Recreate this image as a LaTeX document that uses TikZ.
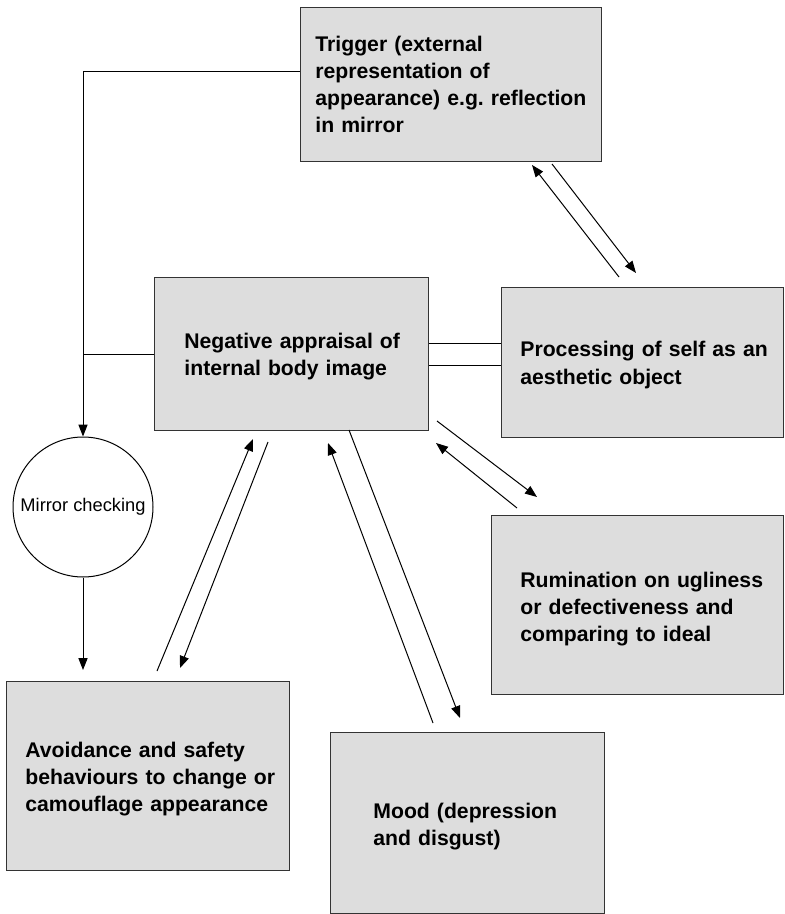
\documentclass[tikz,border=0pt]{standalone}
\usepackage{fontspec}
\setmainfont{Liberation Sans}
\usetikzlibrary{arrows.meta}

\definecolor{boxgray}{HTML}{DDDDDD}
\definecolor{edgegray}{HTML}{333333}

\tikzset{
  box/.style={draw=edgegray, line width=0.6pt, fill=boxgray, anchor=north west, inner sep=0pt},
  boxtext/.style={anchor=base west, inner sep=0pt, text width=150pt, align=left,
    font=\fontsize{10.6}{13.5}\selectfont\bfseries},
  arrow/.style={line width=0.5pt, -{Triangle[length=6pt,width=4.6pt]}},
  link/.style={line width=0.5pt}
}

\begin{document}
\begin{tikzpicture}[x=0.5pt,y=-0.5pt]
\useasboundingbox (0,0) rectangle (784,914);

% Boxes
\node [box, minimum width=150.5pt, minimum height=77pt] (trig) at (300,7) {};
\node [box, minimum width=137pt, minimum height=76.5pt] (neg) at (154,277) {};
\node [box, minimum width=141pt, minimum height=75pt] (proc) at (501,287) {};
\node [box, minimum width=146pt, minimum height=89.5pt] (rum) at (491,515) {};
\node [box, minimum width=141.5pt, minimum height=94.5pt] (avoid) at (6,681) {};
\node [box, minimum width=137pt, minimum height=90.5pt] (mood) at (330,732) {};

% Box texts
\node [boxtext] (trigtxt) at (315,52) {Trigger (external\\representation of\\appearance) e.g.\ reflection\\in mirror};
\node [boxtext] (negtxt) at (184,348) {Negative appraisal of\\internal body image};
\node [boxtext] (proctxt) at (520,357) {Processing of self as an\\aesthetic object};
\node [boxtext] (rumtxt) at (520,587) {Rumination on ugliness\\or defectiveness and\\comparing to ideal};
\node [boxtext] (avoidtxt) at (25,757) {Avoidance and safety\\behaviours to change or\\camouflage appearance};
\node [boxtext] (moodtxt) at (373,818) {Mood (depression\\and disgust)};

% Mirror checking
\node [draw, circle, line width=0.5pt, minimum size=70pt, inner sep=0pt,
  font=\fontsize{9.15}{11}\selectfont] (mirror) at (83,507) {Mirror checking};

% Feedback loop on the left
\draw [arrow] ([yshift=6.5pt]trig.west) -| (mirror.north);
\draw [link] (neg.west) -- (neg.west -| mirror.north);
\draw [arrow] (mirror.south) -- ([yshift=5.5pt]mirror.south |- avoid.north);

% Double line to processing
\draw [link] ([yshift=5.25pt]neg.east) -- ([yshift=5.25pt]neg.east -| proc.west);
\draw [link] ([yshift=-5.75pt]neg.east) -- ([yshift=-5.75pt]neg.east -| proc.west);

% Arrow ends
\coordinate (tp1) at (619,277);
\coordinate (tp2) at (532,165);
\coordinate (tp3) at (552,164);
\coordinate (tp4) at (636,273);
\coordinate (nr1) at (437,421);
\coordinate (nr2) at (537,497);
\coordinate (nr3) at (517,508);
\coordinate (nr4) at (436,443);
\coordinate (nm1) at (349,430);
\coordinate (nm2) at (460,718);
\coordinate (nm3) at (433,723);
\coordinate (nm4) at (328,443);
\coordinate (na1) at (157,671);
\coordinate (na2) at (253,439);
\coordinate (na3) at (268,442);
\coordinate (na4) at (180,668);

% Two-way arrows
\draw [arrow] (tp1) -- (tp2);
\draw [arrow] (tp3) -- (tp4);
\draw [arrow] (nr1) -- (nr2);
\draw [arrow] (nr3) -- (nr4);
\draw [arrow] (nm1) -- (nm2);
\draw [arrow] (nm3) -- (nm4);
\draw [arrow] (na1) -- (na2);
\draw [arrow] (na3) -- (na4);

\end{tikzpicture}
\end{document}
